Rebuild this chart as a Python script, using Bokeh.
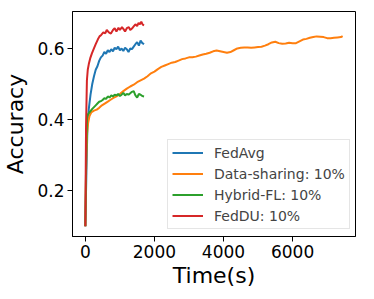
from bokeh.plotting import figure
from bokeh.models import Range1d, FixedTicker, Legend, LegendItem
from bokeh.embed import file_html
from bokeh.resources import INLINE

# ---- data ----
t_avg = [0, 30, 60, 100, 150, 200, 250, 300, 350, 400, 450, 500, 550, 600, 650, 700, 750, 800,
         850, 900, 950, 1000, 1050, 1100, 1150, 1200, 1250, 1300, 1350, 1400, 1450, 1500, 1550,
         1600, 1650, 1700]
acc_avg = [0.10, 0.25, 0.38, 0.43, 0.47, 0.50, 0.522, 0.54, 0.55, 0.565, 0.575, 0.58, 0.59, 0.585,
           0.595, 0.59, 0.598, 0.592, 0.602, 0.598, 0.605, 0.595, 0.60, 0.593, 0.602, 0.598, 0.59,
           0.60, 0.598, 0.605, 0.612, 0.618, 0.608, 0.622, 0.615, 0.612]

t_ds = [0, 25, 50, 80, 120, 170, 250, 330, 400, 480, 560, 640, 720, 800, 900, 1000, 1100, 1200,
        1300, 1400, 1500, 1600, 1700, 1800, 1900, 2000, 2100, 2200, 2300, 2400, 2500, 2600, 2700,
        2800, 2900, 3000, 3100, 3200, 3300, 3400, 3500, 3600, 3700, 3800, 3900, 4000, 4100, 4200,
        4300, 4400, 4500, 4600, 4700, 4800, 4900, 5000, 5100, 5200, 5300, 5400, 5500, 5600, 5700,
        5800, 5900, 6000, 6100, 6200, 6300, 6400, 6500, 6600, 6700, 6800, 6900, 7000, 7100, 7200,
        7300, 7400, 7450]
acc_ds = [0.10, 0.28, 0.36, 0.39, 0.41, 0.42, 0.425, 0.428, 0.433, 0.44, 0.445, 0.45, 0.455, 0.46,
          0.465, 0.472, 0.48, 0.487, 0.493, 0.498, 0.505, 0.51, 0.515, 0.522, 0.53, 0.535, 0.542,
          0.548, 0.552, 0.556, 0.56, 0.562, 0.566, 0.57, 0.572, 0.575, 0.575, 0.577, 0.58, 0.583,
          0.585, 0.588, 0.592, 0.594, 0.592, 0.59, 0.588, 0.59, 0.595, 0.60, 0.602, 0.603, 0.603,
          0.602, 0.603, 0.604, 0.605, 0.608, 0.612, 0.617, 0.619, 0.615, 0.613, 0.614, 0.616, 0.615,
          0.615, 0.62, 0.625, 0.627, 0.63, 0.632, 0.634, 0.633, 0.632, 0.629, 0.629, 0.63, 0.631,
          0.632, 0.635]

t_hyb = [0, 25, 50, 80, 120, 160, 200, 250, 300, 350, 400, 450, 500, 550, 600, 650, 700, 750, 800,
         850, 900, 950, 1000, 1050, 1100, 1150, 1200, 1250, 1300, 1350, 1400, 1450, 1500, 1550,
         1600, 1650, 1700]
acc_hyb = [0.10, 0.30, 0.41, 0.415, 0.42, 0.425, 0.43, 0.435, 0.44, 0.445, 0.45, 0.452, 0.455,
           0.46, 0.458, 0.465, 0.462, 0.468, 0.465, 0.47, 0.468, 0.472, 0.466, 0.47, 0.475, 0.468,
           0.472, 0.47, 0.474, 0.478, 0.48, 0.468, 0.462, 0.472, 0.47, 0.466, 0.465]

t_du = [0, 20, 45, 70, 100, 140, 190, 240, 300, 360, 410, 460, 520, 580, 620, 680, 740, 800, 850,
        900, 960, 1000, 1060, 1100, 1150, 1200, 1260, 1300, 1350, 1400, 1450, 1500, 1540, 1580,
        1620, 1660, 1700]
acc_du = [0.10, 0.38, 0.51, 0.54, 0.556, 0.572, 0.586, 0.598, 0.612, 0.625, 0.634, 0.638, 0.645,
          0.643, 0.652, 0.645, 0.642, 0.652, 0.657, 0.648, 0.658, 0.652, 0.66, 0.655, 0.648, 0.657,
          0.66, 0.652, 0.656, 0.662, 0.668, 0.663, 0.672, 0.668, 0.675, 0.667, 0.665]

labels = ["FedAvg", "Data-sharing: 10%", "Hybrid-FL: 10%", "FedDU: 10%"]
colors = ["#1f77b4", "#ff7f0e", "#2ca02c", "#d62728"]
x_ticks = [0, 2000, 4000, 6000]
y_ticks = [0.2, 0.4, 0.6]

FONT = "DejaVu Sans"

p = figure(width=358, height=291, output_backend="svg", toolbar_location=None,
           x_range=Range1d(-372, 7822), y_range=Range1d(0.071, 0.704),
           min_border_left=64, min_border_right=3, min_border_top=11, min_border_bottom=55)
p.outline_line_color = "black"
p.outline_line_width = 1
p.xgrid.visible = False
p.ygrid.visible = False
p.background_fill_color = "white"
p.border_fill_color = "white"

series = [(t_avg, acc_avg), (t_ds, acc_ds), (t_hyb, acc_hyb), (t_du, acc_du)]
renderers = []
for (tx, ay), c in zip(series, colors):
    r = p.line(tx, ay, line_color=c, line_width=2)
    renderers.append(r)

for ax in (p.xaxis[0], p.yaxis[0]):
    ax.major_label_text_font = FONT
    ax.major_label_text_font_size = "17px"
    ax.major_label_text_color = "black"
    ax.axis_label_text_font = FONT
    ax.axis_label_text_font_size = "22px"
    ax.axis_label_text_font_style = "normal"
    ax.axis_label_text_color = "black"
    ax.major_tick_out = 5
    ax.major_tick_in = 0
    ax.minor_tick_out = 0
    ax.minor_tick_in = 0
    ax.axis_line_color = "black"
    ax.major_tick_line_color = "black"

p.xaxis[0].ticker = FixedTicker(ticks=x_ticks)
p.yaxis[0].ticker = FixedTicker(ticks=y_ticks)
p.xaxis[0].axis_label = "Time(s)"
p.yaxis[0].axis_label = "Accuracy"
p.xaxis[0].major_label_standoff = 3
p.yaxis[0].major_label_standoff = 3
p.xaxis[0].axis_label_standoff = 2
p.yaxis[0].axis_label_standoff = 6

legend = Legend(items=[LegendItem(label=l, renderers=[r]) for l, r in zip(labels, renderers)],
                location=(95, 7), margin=0, padding=4, spacing=4,
                label_text_font=FONT, label_text_font_size="14px",
                label_height=17, glyph_height=17, glyph_width=31, label_standoff=11,
                border_line_color="#cccccc", border_line_width=1,
                background_fill_color="white", background_fill_alpha=0.8)
p.add_layout(legend)

open("out.html", "w").write(file_html(p, INLINE))
